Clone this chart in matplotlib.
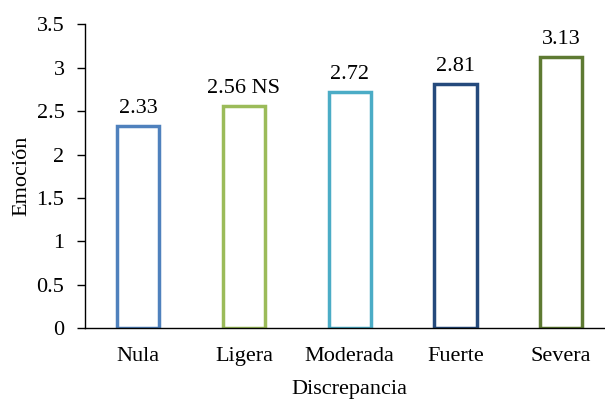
import matplotlib.pyplot as plt

# Emoción media por nivel de discrepancia
categorias = ["Nula", "Ligera", "Moderada", "Fuerte", "Severa"]
valores = [2.33, 2.56, 2.72, 2.81, 3.13]
etiquetas = ["2.33", "2.56 NS", "2.72", "2.81", "3.13"]
colores = ["#4f81bd", "#9bbb59", "#4bacc6", "#254a7c", "#5e7a32"]

plt.rcParams["font.family"] = ["Liberation Serif", "DejaVu Serif"]
fs = 16

fig = plt.figure(figsize=(6.05, 4.01), dpi=100)
ax = fig.add_axes([0.141, 0.182, 0.874, 0.757])

x = range(len(categorias))
bars = ax.bar(x, valores, width=0.4, facecolor="white", edgecolor=colores, linewidth=2.5)
for b, txt in zip(bars, etiquetas):
    ax.text(b.get_x() + b.get_width() / 2, b.get_height() + 0.09, txt,
            ha="center", va="bottom", fontsize=fs)

ax.set_xlim(-0.5, 4.5)
ax.set_ylim(0, 3.5)
ax.set_yticks([0, 0.5, 1, 1.5, 2, 2.5, 3, 3.5])
ax.set_yticklabels(["0", "0.5", "1", "1.5", "2", "2.5", "3", "3.5"])
ax.set_xticks(list(x))
ax.set_xticklabels(categorias)
ax.tick_params(axis="x", length=0, pad=14, labelsize=fs)
ax.tick_params(axis="y", length=6, width=1, pad=9, labelsize=fs)

ax.spines["top"].set_visible(False)
ax.spines["right"].set_visible(False)
ax.spines["bottom"].set_linewidth(1)
ax.spines["left"].set_linewidth(1)

ax.set_xlabel("Discrepancia", fontsize=fs, labelpad=10)
ax.set_ylabel("Emoción", fontsize=fs, labelpad=4)

fig.savefig("out.png", dpi=100)
